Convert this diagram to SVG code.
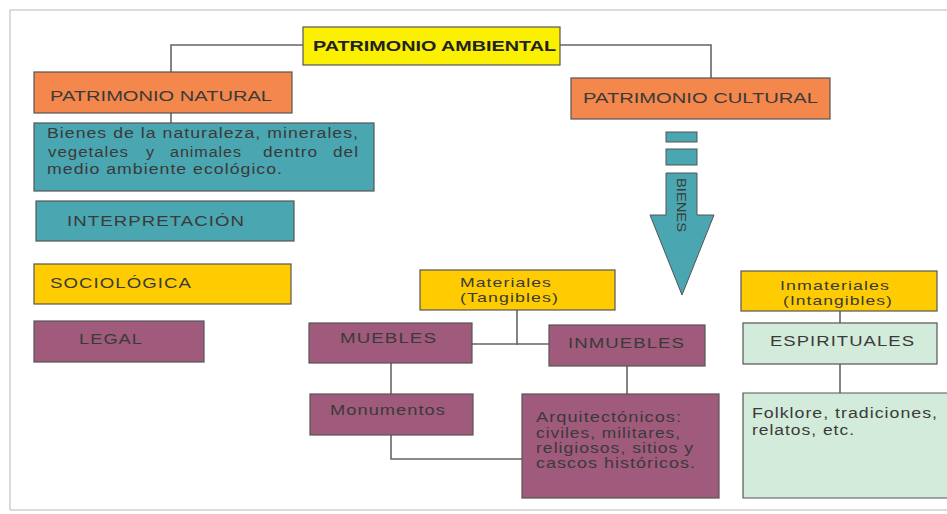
<svg xmlns="http://www.w3.org/2000/svg" width="947" height="514" viewBox="0 0 947 514">
<style>
.b{stroke:#555;stroke-width:1.2}
.y{fill:#FAF000}.o{fill:#F4874B}.t{fill:#4AA6B0}.g{fill:#FECC00}.m{fill:#A05A7B}.l{fill:#D2EBDA}
text{font-family:"Liberation Sans",Arial,sans-serif;font-size:14px;fill:#3a3a3a;letter-spacing:0.8px}
.c{stroke:#666;stroke-width:1.6;fill:none}
</style>
<rect x="0" y="0" width="947" height="514" fill="#fff"/>
<path d="M10 510 V10 H947 M10 510 H947" fill="none" stroke="#cfcfcf" stroke-width="1.5"/>
<g id="connectors" class="c">
<path d="M303 45 H171 V72"/>
<path d="M560 45 H711 V78"/>
<path d="M171 113 V123"/>
<path d="M517 310 V345 M472 344 H549"/>
<path d="M391 363 V394"/>
<path d="M627 366 V394"/>
<path d="M391 435 V459 H522"/>
<path d="M840 311 V323"/>
<path d="M840 364 V393"/>
</g>
<g id="ambiental"><rect class="b y" x="303" y="27" width="257" height="38"/><text x="313" y="51" textLength="243" lengthAdjust="spacingAndGlyphs" font-weight="bold" style="fill:#222;font-size:15px;letter-spacing:0">PATRIMONIO AMBIENTAL</text></g>
<g id="natural"><rect class="b o" x="34" y="72" width="258" height="41"/><text x="50" y="101" textLength="222" lengthAdjust="spacingAndGlyphs" style="letter-spacing:0">PATRIMONIO NATURAL</text></g>
<g id="cultural"><rect class="b o" x="571" y="78" width="259" height="41"/><text x="583" y="103" textLength="235" lengthAdjust="spacingAndGlyphs" style="letter-spacing:0">PATRIMONIO CULTURAL</text></g>
<g id="bienes-nat"><rect class="b t" x="34" y="123" width="340" height="68"/>
<text x="47" y="138" textLength="312" lengthAdjust="spacingAndGlyphs">Bienes de la naturaleza, minerales,</text>
<text x="48" y="157" textLength="81" lengthAdjust="spacingAndGlyphs">vegetales</text>
<text x="146" y="157" textLength="9" lengthAdjust="spacingAndGlyphs">y</text>
<text x="170" y="157" textLength="72" lengthAdjust="spacingAndGlyphs">animales</text>
<text x="263" y="157" textLength="55" lengthAdjust="spacingAndGlyphs">dentro</text>
<text x="333" y="157" textLength="26" lengthAdjust="spacingAndGlyphs">del</text>
<text x="47" y="174" textLength="236" lengthAdjust="spacingAndGlyphs">medio ambiente ecológico.</text></g>
<g id="interpretacion"><rect class="b t" x="36" y="201" width="258" height="40"/><text x="67" y="226" textLength="178" lengthAdjust="spacingAndGlyphs">INTERPRETACIÓN</text></g>
<g id="sociologica"><rect class="b g" x="34" y="264" width="257" height="40"/><text x="50" y="288" textLength="142" lengthAdjust="spacingAndGlyphs">SOCIOLÓGICA</text></g>
<g id="legal"><rect class="b m" x="34" y="321" width="170" height="41"/><text x="79" y="344" textLength="64" lengthAdjust="spacingAndGlyphs">LEGAL</text></g>
<g id="arrow">
<rect class="t" x="666" y="132" width="31" height="10" stroke="#555" stroke-width="1"/>
<rect class="t" x="666" y="149" width="31" height="16" stroke="#555" stroke-width="1"/>
<path class="t" d="M666 173 H697 V215 H714 L682 295 L650 215 H666 Z" stroke="#555" stroke-width="1"/>
<text transform="translate(677 178) rotate(90)" textLength="54" lengthAdjust="spacingAndGlyphs" style="font-size:12px;letter-spacing:0">BIENES</text>
</g>
<g id="materiales"><rect class="b g" x="420" y="270" width="195" height="40"/><text x="460" y="287" textLength="92" lengthAdjust="spacingAndGlyphs" style="font-size:13px">Materiales</text><text x="460" y="302" textLength="99" lengthAdjust="spacingAndGlyphs" style="font-size:13px">(Tangibles)</text></g>
<g id="muebles"><rect class="b m" x="309" y="323" width="163" height="40"/><text x="340" y="343" textLength="97" lengthAdjust="spacingAndGlyphs">MUEBLES</text></g>
<g id="inmuebles"><rect class="b m" x="549" y="325" width="156" height="41"/><text x="568" y="348" textLength="117" lengthAdjust="spacingAndGlyphs">INMUEBLES</text></g>
<g id="monumentos"><rect class="b m" x="310" y="394" width="163" height="41"/><text x="330" y="415" textLength="116" lengthAdjust="spacingAndGlyphs">Monumentos</text></g>
<g id="arquitectonicos"><rect class="b m" x="522" y="394" width="197" height="104"/>
<text x="536" y="422" textLength="146" lengthAdjust="spacingAndGlyphs">Arquitectónicos:</text>
<text x="536" y="438" textLength="145" lengthAdjust="spacingAndGlyphs">civiles, militares,</text>
<text x="536" y="453" textLength="158" lengthAdjust="spacingAndGlyphs">religiosos, sitios y</text>
<text x="536" y="468" textLength="160" lengthAdjust="spacingAndGlyphs">cascos históricos.</text></g>
<g id="inmateriales"><rect class="b g" x="741" y="271" width="196" height="40"/><text x="780" y="290" textLength="110" lengthAdjust="spacingAndGlyphs" style="font-size:13px">Inmateriales</text><text x="783" y="305" textLength="110" lengthAdjust="spacingAndGlyphs" style="font-size:13px">(Intangibles)</text></g>
<g id="espirituales"><rect class="b l" x="743" y="323" width="194" height="41"/><text x="770" y="346" textLength="145" lengthAdjust="spacingAndGlyphs">ESPIRITUALES</text></g>
<g id="folklore"><path class="l" d="M947 393 H743 V498 H947" stroke="#555" stroke-width="1.2"/>
<text x="752" y="418" textLength="186" lengthAdjust="spacingAndGlyphs">Folklore, tradiciones,</text>
<text x="752" y="435" textLength="103" lengthAdjust="spacingAndGlyphs">relatos, etc.</text></g>
</svg>
